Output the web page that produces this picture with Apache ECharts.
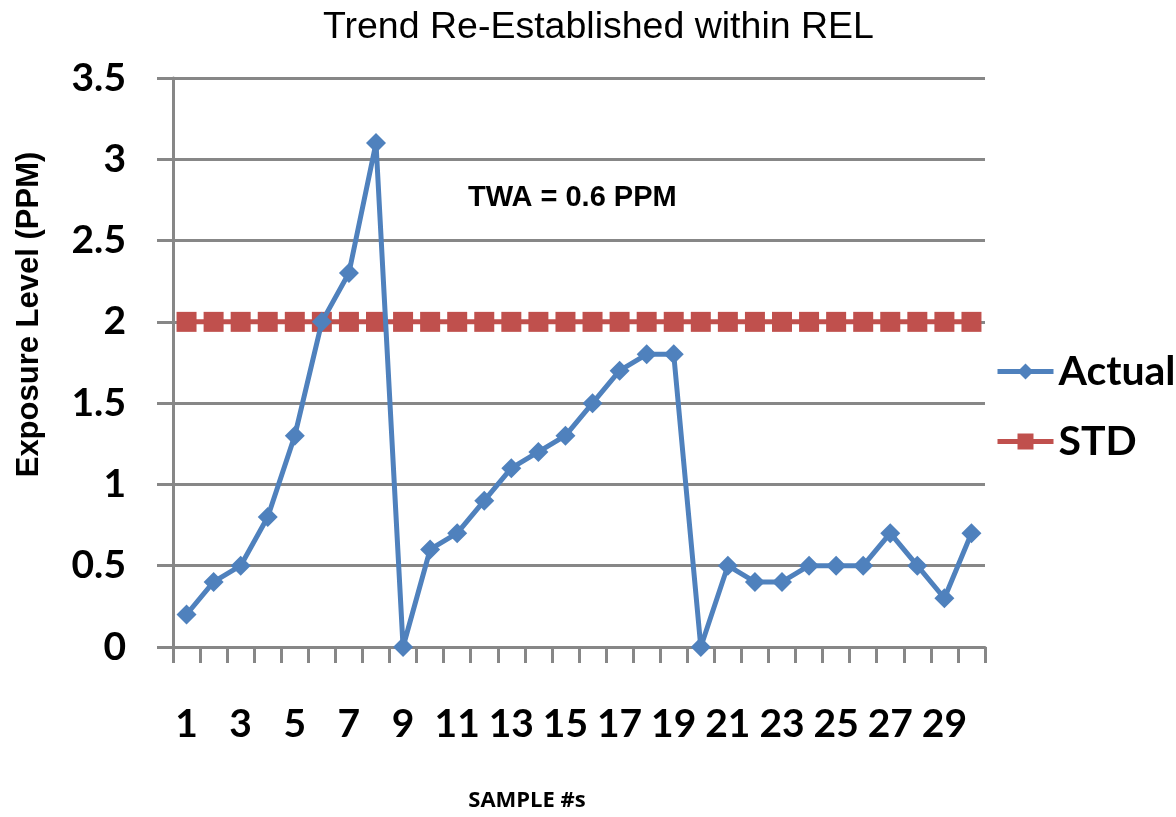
<!DOCTYPE html>
<html><head><meta charset="utf-8">
<script src="https://cdn.jsdelivr.net/npm/echarts@6/dist/echarts.min.js"></script>
<style>html,body{margin:0;padding:0;background:#fff}#c{width:1176px;height:817px}</style>
</head><body><div id="c"></div>
<script>
const categories = Array.from({length:30},(_,i)=>String(i+1));
const actual = [0.2,0.4,0.5,0.8,1.3,2.0,2.3,3.1,0,0.6,0.7,0.9,1.1,1.2,1.3,1.5,1.7,1.8,1.8,0,0.5,0.4,0.4,0.5,0.5,0.5,0.7,0.5,0.3,0.7];
const std = [2,2,2,2,2,2,2,2,2,2,2,2,2,2,2,2,2,2,2,2,2,2,2,2,2,2,2,2,2,2];
const chart = echarts.init(document.getElementById('c'));
chart.setOption({
  animation:false,
  title:{text:'Trend Re-Established within REL',left:318,top:4,padding:5,
    textStyle:{fontFamily:'Liberation Sans',fontWeight:'normal',fontSize:37.5,color:'#000'}},
  grid:{left:173,right:191,top:78,bottom:167},
  legend:{orient:'vertical',left:995,top:351,padding:0,itemWidth:56,itemHeight:20,itemGap:29,
    lineStyle:{width:5},
    textStyle:{fontFamily:'Lato',fontWeight:'bold',fontSize:41,color:'#000'},
    data:['Actual','STD']},
  graphic:[{type:'text',left:468,top:183,style:{text:'TWA = 0.6 PPM',font:'bold 29px "Liberation Sans"',fill:'#000'}}],
  xAxis:{type:'category',data:categories,boundaryGap:true,
    name:'SAMPLE #s',nameLocation:'middle',nameGap:143,
    nameTextStyle:{fontFamily:'Open Sans',fontWeight:'bold',fontSize:22,color:'#000',padding:[0,104,0,0]},
    axisLine:{lineStyle:{color:'#878787',width:3}},
    axisTick:{show:true,length:16,interval:0,lineStyle:{color:'#878787',width:3}},
    axisLabel:{interval:1,margin:58,fontFamily:'Lato',fontWeight:'bold',fontSize:39,color:'#000'}},
  yAxis:{type:'value',min:0,max:3.5,interval:0.5,
    name:'Exposure Level (PPM)',nameLocation:'middle',nameGap:128,
    nameTextStyle:{fontFamily:'Liberation Sans',fontWeight:'bold',fontSize:31,color:'#000',padding:[0,0,0,96]},
    axisLine:{show:true,lineStyle:{color:'#878787',width:3}},
    axisTick:{show:true,length:16,lineStyle:{color:'#878787',width:3}},
    splitLine:{lineStyle:{color:'#878787',width:3}},
    axisLabel:{margin:47,fontFamily:'Lato',fontWeight:'bold',fontSize:39,color:'#000'}},
  series:[
    {name:'Actual',type:'line',data:actual,symbol:'diamond',symbolSize:20,showAllSymbol:true,
      lineStyle:{color:'#4F81BD',width:5},itemStyle:{color:'#4F81BD'},z:3},
    {name:'STD',type:'line',data:std,symbol:'rect',symbolSize:20,showAllSymbol:true,
      lineStyle:{color:'#C0504D',width:5},itemStyle:{color:'#C0504D'},z:2}
  ]
});
</script></body></html>
